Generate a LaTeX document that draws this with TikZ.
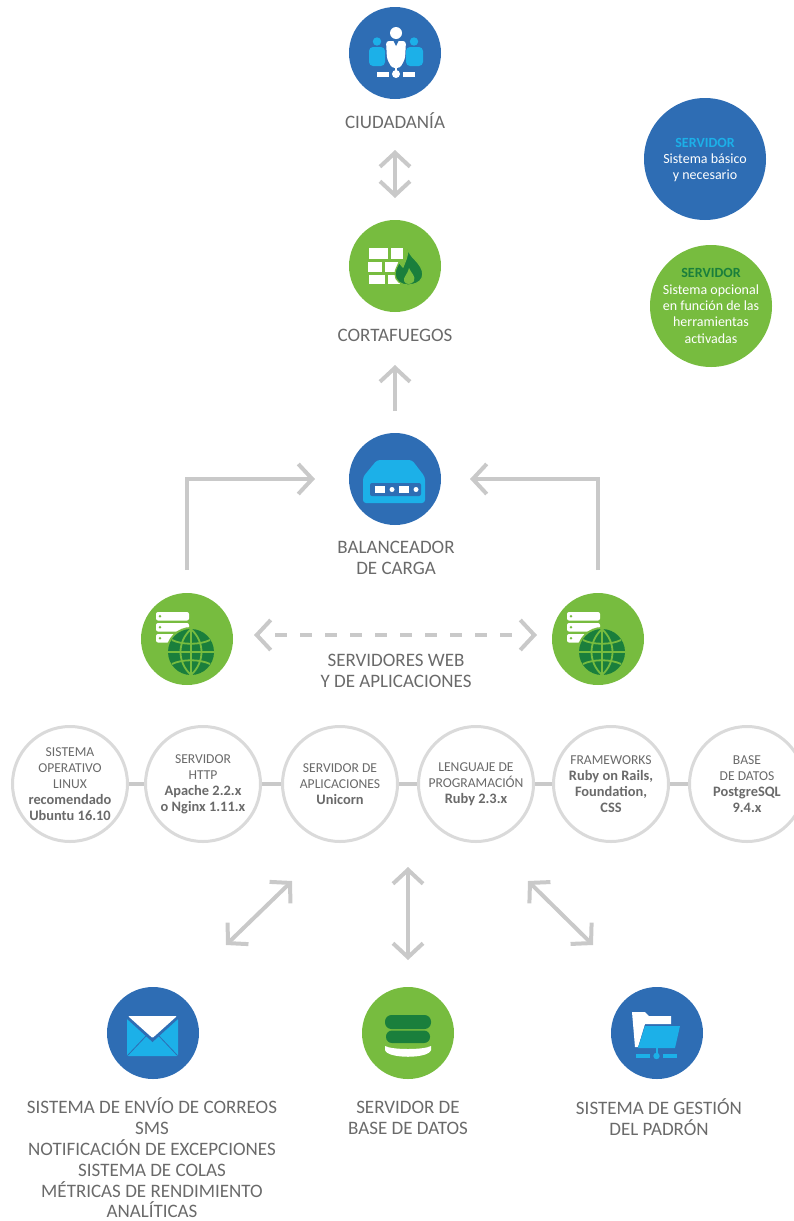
\documentclass[tikz,border=0pt]{standalone}
\usepackage{fontspec}
\setmainfont{Carlito}
\usetikzlibrary{arrows.meta}
\definecolor{cblue}{HTML}{2E6DB4}
\definecolor{cgreen}{HTML}{77BC3F}
\definecolor{cdark}{HTML}{1A7F3C}
\definecolor{ccyan}{HTML}{1CB0E8}
\definecolor{ctext}{HTML}{6A6A6A}
\definecolor{cline}{HTML}{C9C9C9}
\definecolor{cring}{HTML}{DADADA}
\tikzset{
  bluedisc/.style={circle,fill=cblue,minimum size=92pt,inner sep=0pt},
  greendisc/.style={circle,fill=cgreen,minimum size=92pt,inner sep=0pt},
  caption/.style={text=ctext,align=center,inner sep=0pt,font=\fontsize{19}{20.8}\selectfont},
  ring/.style={circle,draw=cring,line width=3pt,fill=white,minimum size=115pt,inner sep=0pt,text=ctext,align=center,font=\fontsize{13.6}{16}\selectfont},
  conn/.style={draw=cline,line width=4pt},
  twotip/.style={conn,{Straight Barb[length=14pt,width=30pt,line width=4pt]}-{Straight Barb[length=14pt,width=30pt,line width=4pt]}},
  onetip/.style={conn,-{Straight Barb[length=14pt,width=30pt,line width=4pt]}},
  legendtext/.style={text=white,align=center,inner sep=0pt,font=\fontsize{14}{16.4}\selectfont}
}
\newcommand{\bd}[1]{{\fontsize{14.4}{16}\selectfont\bfseries #1}}
\begin{document}
\begin{tikzpicture}[x=1pt,y=-1pt]
\useasboundingbox (0,0) rectangle (794,1221);
% discs
\node[bluedisc] (ciud) at (395,53) {};
\node[greendisc] (cort) at (395,266) {};
\node[bluedisc] (bal) at (395,479) {};
\node[greendisc] (webl) at (187,639) {};
\node[greendisc] (webr) at (598,639) {};
\node[bluedisc] (mail) at (153,1033) {};
\node[greendisc] (db) at (408,1033) {};
\node[bluedisc] (pad) at (657,1033) {};
% legend
\node[circle,fill=cblue,minimum size=122pt,inner sep=0pt] (legb) at (705,159) {};
\node[circle,fill=cgreen,minimum size=122pt,inner sep=0pt] (legg) at (711,306) {};
\node[legendtext] (legbt) at (705,160) {\textcolor{ccyan}{\bfseries SERVIDOR}\\Sistema básico\\y necesario};
\node[legendtext] (leggt) at (711,306) {\textcolor{cdark}{\bfseries SERVIDOR}\\Sistema opcional\\en función de las\\herramientas\\activadas};
% captions
\node[caption] (tciud) at (395,121) {CIUDADANÍA};
\node[caption] (tcort) at (395,335) {CORTAFUEGOS};
\node[caption] (tbal) at (396,558) {BALANCEADOR\\DE CARGA};
\node[caption] (tweb) at (396,671) {SERVIDORES WEB\\Y DE APLICACIONES};
\node[caption] (tmail) at (152,1158) {SISTEMA DE ENVÍO DE CORREOS\\SMS\\NOTIFICACIÓN DE EXCEPCIONES\\SISTEMA DE COLAS\\MÉTRICAS DE RENDIMIENTO\\ANALÍTICAS};
\node[caption] (tdb) at (408,1117.5) {SERVIDOR DE\\BASE DE DATOS};
\node[caption] (tpad) at (659,1117.5) {SISTEMA DE GESTIÓN\\DEL PADRÓN};
% rings
\node[ring] (r1) at (70,784) {SISTEMA\\OPERATIVO\\LINUX\\\bd{recomendado}\\\bd{Ubuntu 16.10}};
\node[ring] (r2) at (203,784) {SERVIDOR\\HTTP\\\bd{Apache 2.2.x}\\\bd{o Nginx 1.11.x}};
\node[ring] (r3) at (340,784) {SERVIDOR DE\\APLICACIONES\\\bd{Unicorn}};
\node[ring] (r4) at (476,784) {LENGUAJE DE\\PROGRAMACIÓN\\\bd{Ruby 2.3.x}};
\node[ring] (r5) at (611,784) {FRAMEWORKS\\\bd{Ruby on Rails,}\\\bd{Foundation,}\\\bd{CSS}};
\node[ring] (r6) at (747,784) {BASE\\DE DATOS\\\bd{PostgreSQL}\\\bd{9.4.x}};
\foreach \a/\b in {r1/r2,r2/r3,r3/r4,r4/r5,r5/r6}{\draw[conn] (\a) -- (\b);}
% connector ends
\coordinate (a1) at (395,150); \coordinate (a2) at (395,198);
\coordinate (b1) at (395,411); \coordinate (b2) at (395,365);
\coordinate (cl) at (187,570); \coordinate (cle) at (315,479);
\coordinate (cr) at (598,570); \coordinate (cre) at (470,479);
\coordinate (dl) at (254,635); \coordinate (dr) at (537,635);
\coordinate (dl1) at (260,635); \coordinate (dr1) at (531,635);
\coordinate (dl2) at (275,635); \coordinate (dr2) at (512,635);
\coordinate (e1) at (226,945); \coordinate (e2) at (292,881);
\coordinate (f1) at (408,867); \coordinate (f2) at (408,960);
\coordinate (g1) at (528,881); \coordinate (g2) at (593,945);
\draw[twotip] (a1) -- (a2);
\draw[onetip] (b1) -- (b2);
\draw[onetip] (cl) |- (cle);
\draw[onetip] (cr) |- (cre);
\draw[conn,dash pattern=on 12pt off 13pt] (dl2) -- (dr2);
\draw[onetip] (dl1) -- (dl);
\draw[onetip] (dr1) -- (dr);
\draw[twotip] (e1) -- (e2);
\draw[twotip] (f1) -- (f2);
\draw[twotip] (g1) -- (g2);
% ciudadania icon
\fill[ccyan] (377,41.5) circle (4.2);
\fill[ccyan,rounded corners=4] (369,47) rectangle (385,66);
\fill[ccyan] (414,41.5) circle (4.2);
\fill[ccyan,rounded corners=4] (406,47) rectangle (423,66);
\fill[white] (396,33) circle (6);
\fill[white,rounded corners=3] (386,41) -- (406,41) -- (405,59) -- (400,68) -- (392,68) -- (387,59) -- cycle;
\fill[cblue] (393.5,41) -- (398.5,41) -- (396,46) -- cycle;
\fill[white] (377,72) rectangle (389,76.5);
\fill[white] (403,72) rectangle (415,76.5);
\fill[white] (396,74) circle (4);
\fill[white] (394.8,66) rectangle (397.2,74);
% cortafuegos icon
\begin{scope}[white]
\fill (369,248) rectangle (388,258.5);
\fill (391,248) rectangle (403,258.5);
\fill (368,261.5) rectangle (382,272);
\fill (385,261.5) rectangle (400,272);
\fill (369,274.5) rectangle (385,284);
\fill (388,274.5) rectangle (400,284);
\end{scope}
\fill[cdark,draw=cgreen,line width=1.2pt] (408,249) .. controls (410,256) and (415,259) .. (418,263) .. controls (422,268) and (424,273) .. (422,278) .. controls (420,283) and (413,285) .. (408,285) .. controls (401,285) and (395,281) .. (395,274) .. controls (395,269) and (398,266) .. (399,262) .. controls (401,265) and (402,266) .. (403,267) .. controls (405,262) and (408,256) .. (408,249) -- cycle;
\fill[cgreen] (409,268) .. controls (411,273) and (416,276) .. (414,281) .. controls (412,285) and (405,285) .. (404,281) .. controls (403,277) and (408,274) .. (409,268) -- cycle;
% balanceador icon
\fill[ccyan,rounded corners=3] (363,503) -- (363,477) -- (377,460) -- (412,460) -- (425,477) -- (425,503) -- cycle;
\fill[cblue,rounded corners=2] (370,483) rectangle (421,496);
\fill[white] (375,486) rectangle (385,493);
\fill[white] (392,489.5) circle (2.5);
\fill[white] (399,486) rectangle (409,493);
\fill[white] (416,489.5) circle (2.5);
% web icons
\foreach \n/\cx in {wl/187,wr/598}{
\begin{scope}[shift={(\cx,639)}]
\foreach \yy in {-27,-16,-5}{
 \fill[white,rounded corners=2] (-31,\yy) rectangle (2,\yy+8.5);
 \fill[cgreen] (-27,\yy+4.2) circle (1.4);
}
\fill[cgreen] (4,13) circle (25);
\fill[cdark] (4,13) circle (23);
\begin{scope}[cgreen,line width=1.8pt]
\draw (-19,13) -- (27,13);
\draw (-15,1) .. controls (-5,6) and (13,6) .. (23,1);
\draw (-15,25) .. controls (-5,20) and (13,20) .. (23,25);
\draw (4,-10) -- (4,36);
\draw (4,-10) .. controls (-10,3) and (-10,23) .. (4,36);
\draw (4,-10) .. controls (18,3) and (18,23) .. (4,36);
\end{scope}
\end{scope}}
% envelope
\fill[ccyan,rounded corners=1.5] (127,1018) rectangle (178,1056);
\draw[cblue,line width=.8pt] (128,1055) -- (146,1036);
\draw[cblue,line width=.8pt] (177,1055) -- (159,1036);
\fill[cblue] (126,1014) -- (179,1014) -- (179,1018) -- (152.5,1042) -- (126,1018) -- cycle;
\fill[white,rounded corners=1] (128,1016) -- (177,1016) -- (152.5,1038) -- cycle;
% database
\fill[cdark,rounded corners=6.5] (385,1015) rectangle (431,1029);
\fill[cdark,rounded corners=6] (386,1030.5) rectangle (430,1043);
\fill[white] (385,1046) .. controls (392,1050) and (424,1050) .. (431,1046) -- (431,1050) .. controls (429,1059) and (387,1059) .. (385,1050) -- cycle;
% folder
\fill[white] (632,1012) -- (645,1012) -- (649,1016) -- (671,1016) -- (671,1024) -- (645,1024) -- (638,1047) -- (635,1047) -- cycle;
\fill[ccyan] (645,1026) -- (680,1026) -- (675,1048) -- (638,1048) -- cycle;
\fill[ccyan] (655.5,1048) rectangle (657.5,1055);
\fill[ccyan] (656.5,1056) circle (3.2);
\fill[ccyan] (636,1054) rectangle (650,1058);
\fill[ccyan] (663,1054) rectangle (677,1058);
\end{tikzpicture}
\end{document}
